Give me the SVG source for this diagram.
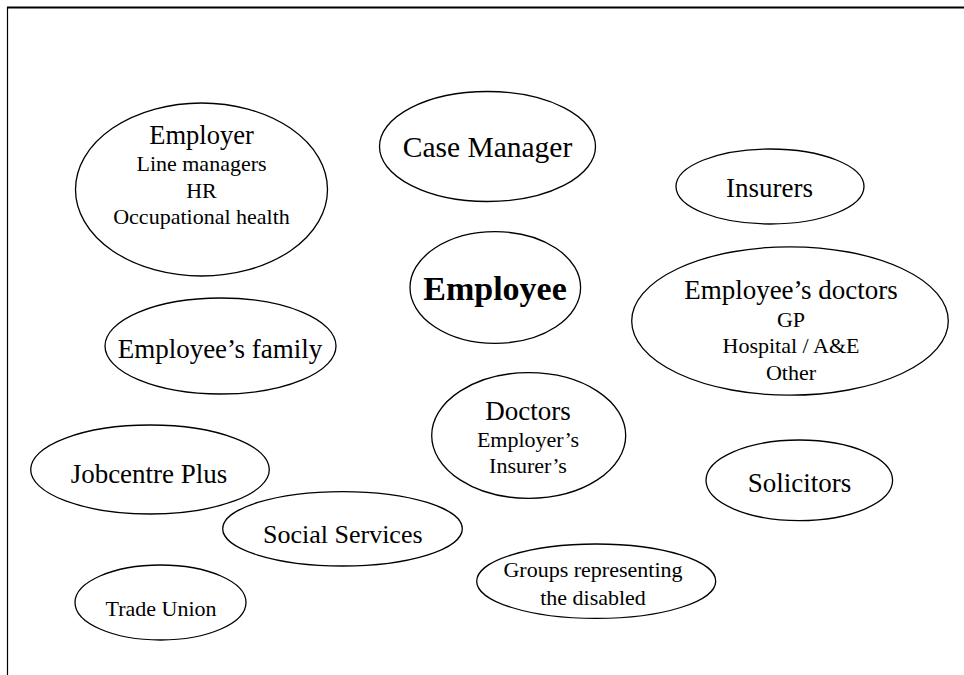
<svg xmlns="http://www.w3.org/2000/svg" width="964" height="675" viewBox="0 0 964 675">
<style>
.node ellipse { fill: #fff; stroke: #000; stroke-width: 1.3; }
.node text { font-family: "Liberation Serif", "Times New Roman", serif; fill: #000; text-anchor: middle; }
.t { font-size: 27px; }
.s { font-size: 22px; }
.frame { stroke: #000; fill: none; }
</style>
<rect width="964" height="675" fill="#fff"/>
<line class="frame" x1="7" y1="7.5" x2="964" y2="7.5" stroke-width="2"/>
<line class="frame" x1="7.5" y1="7" x2="7.5" y2="675" stroke-width="1.2"/>

<g id="employer" class="node">
  <ellipse cx="201.5" cy="189.5" rx="126" ry="86.5"/>
  <text class="t" x="201.5" y="143.5" style="font-size:26.5px">Employer</text>
  <text class="s" x="201.5" y="171">Line managers</text>
  <text class="s" x="201.5" y="197.5">HR</text>
  <text class="s" x="201.5" y="223.5">Occupational health</text>
</g>

<g id="case-manager" class="node">
  <ellipse cx="487.5" cy="146.5" rx="108" ry="55"/>
  <text class="t" x="487.5" y="156.5" style="font-size:29.5px">Case Manager</text>
</g>

<g id="insurers" class="node">
  <ellipse cx="770" cy="186.5" rx="94" ry="37.5"/>
  <text class="t" x="769.5" y="196.5">Insurers</text>
</g>

<g id="employee" class="node">
  <ellipse cx="495.3" cy="287.5" rx="85.3" ry="55.8"/>
  <text x="495" y="300" style="font-size:34px;font-weight:bold">Employee</text>
</g>

<g id="employees-doctors" class="node">
  <ellipse cx="790" cy="321" rx="158.3" ry="74.2"/>
  <text class="t" x="791" y="298.5">Employee’s doctors</text>
  <text class="s" x="791" y="326.5">GP</text>
  <text class="s" x="791" y="353">Hospital / A&amp;E</text>
  <text class="s" x="791" y="379.5">Other</text>
</g>

<g id="employees-family" class="node">
  <ellipse cx="220.5" cy="346" rx="115.5" ry="48"/>
  <text class="t" x="220" y="357.5">Employee’s family</text>
</g>

<g id="doctors" class="node">
  <ellipse cx="528.7" cy="435.5" rx="97" ry="62.8"/>
  <text class="t" x="528" y="420">Doctors</text>
  <text class="s" x="528" y="446.5">Employer’s</text>
  <text class="s" x="528" y="472.5">Insurer’s</text>
</g>

<g id="jobcentre-plus" class="node">
  <ellipse cx="150" cy="469.5" rx="119.3" ry="44.5"/>
  <text class="t" x="149" y="482.5">Jobcentre Plus</text>
</g>

<g id="solicitors" class="node">
  <ellipse cx="799.3" cy="480.3" rx="93.3" ry="40.3"/>
  <text class="t" x="799.5" y="491.5">Solicitors</text>
</g>

<g id="social-services" class="node">
  <ellipse cx="342.5" cy="528.8" rx="119.8" ry="37.2"/>
  <text class="t" x="342.8" y="542.5" style="font-size:26px">Social Services</text>
</g>

<g id="groups-disabled" class="node">
  <ellipse cx="596.2" cy="581.2" rx="119.5" ry="37.2"/>
  <text class="s" x="593" y="576.5">Groups representing</text>
  <text class="s" x="593" y="605">the disabled</text>
</g>

<g id="trade-union" class="node">
  <ellipse cx="160.5" cy="602.5" rx="85.5" ry="37.5"/>
  <text class="s" x="161" y="615.5">Trade Union</text>
</g>
</svg>
